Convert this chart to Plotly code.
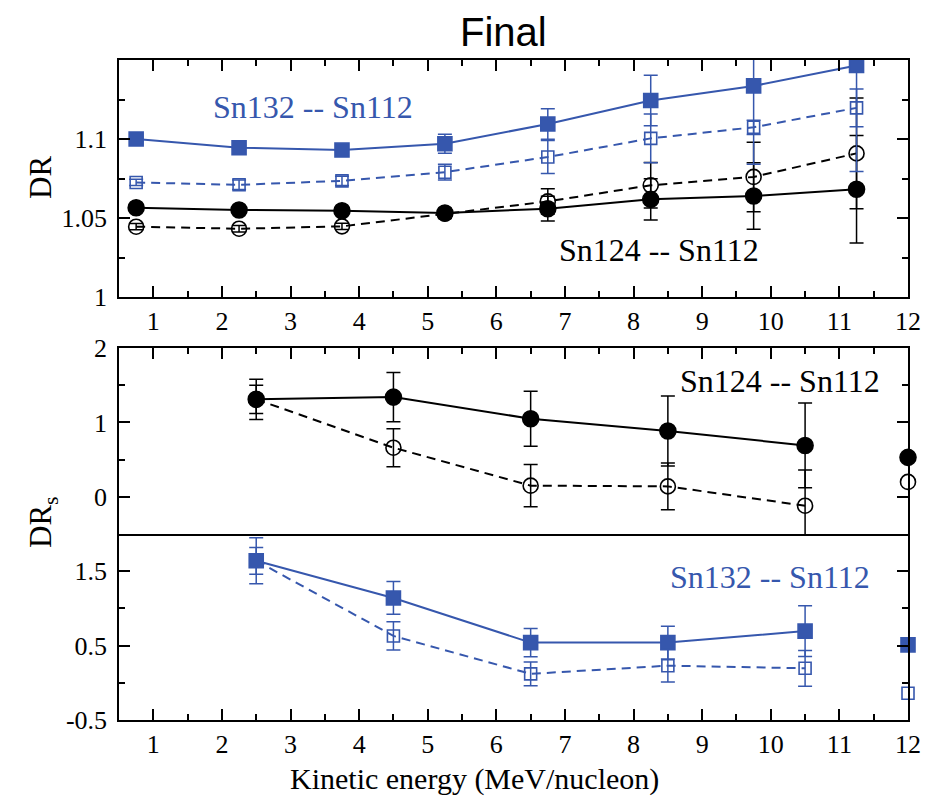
import plotly.graph_objects as go

# ---------------- data ----------------
# top panel (DR)
x_top = [0.75, 2.25, 3.75, 5.25, 6.75, 8.25, 9.75, 11.25]
dr132_full = [1.1000, 1.0945, 1.0930, 1.0970, 1.1095, 1.1244, 1.1336, 1.1465]
dr132_full_err = [0.0015, 0.0015, 0.0015, 0.0060, 0.0097, 0.0160, 0.0496, 0.0670]
dr132_open = [1.0725, 1.0710, 1.0735, 1.0790, 1.0886, 1.1004, 1.1074, 1.1197]
dr132_open_err = [0.0020, 0.0030, 0.0030, 0.0050, 0.0105, 0.0155, 0.0045, 0.0120]
dr124_full = [1.0565, 1.0551, 1.0546, 1.0532, 1.0559, 1.0618, 1.0639, 1.0682]
dr124_full_err = [0.0010, 0.0010, 0.0010, 0.0030, 0.0078, 0.0130, 0.0210, 0.0340]
dr124_open = [1.0445, 1.0432, 1.0447, 1.0527, 1.0605, 1.0707, 1.0760, 1.0909]
dr124_open_err = [0.0020, 0.0020, 0.0020, 0.0030, 0.0080, 0.0144, 0.0220, 0.0350]

# middle / bottom panels (DR_s)
x_s = [2.5, 4.5, 6.5, 8.5, 10.5]
drs124_full = [1.31, 1.34, 1.05, 0.885, 0.69]
drs124_full_err = [0.27, 0.33, 0.37, 0.47, 0.57]
drs124_open = [1.31, 0.66, 0.15, 0.14, -0.12]
drs124_open_err = [0.19, 0.255, 0.285, 0.315, 0.48]
drs132_full = [1.64, 1.14, 0.54, 0.54, 0.695]
drs132_full_err = [0.31, 0.22, 0.19, 0.22, 0.34]
drs132_open = [1.64, 0.63, 0.12, 0.23, 0.195]
drs132_open_err = [0.18, 0.19, 0.16, 0.22, 0.24]

x_avg = [12]
drs124_avg_full = [0.53]
drs124_avg_open = [0.20]
drs132_avg_full = [0.51]
drs132_avg_open = [-0.14]

top_tickvals = [1, 1.05, 1.1]
top_ticktext = ["1", "1.05", "1.1"]
bot_tickvals = [-0.5, 0.5, 1.5]
bot_ticktext = ["-0.5", "0.5", "1.5"]

BLUE = "#3657ad"
BLACK = "#000000"
SERIF = "Liberation Serif"

fig = go.Figure()


def add_series(x, y, err, color, symbol, size, dash, xa, ya, clip=True, lines=True):
    fig.add_trace(go.Scatter(
        x=x, y=y, xaxis=xa, yaxis=ya,
        mode="lines+markers" if lines else "markers",
        line=dict(color=color, width=2, dash=dash),
        marker=dict(symbol=symbol, size=size, color=color,
                    line=dict(color=color, width=1.6)),
        error_y=None if err is None else dict(type="data", array=err, visible=True,
                                              color=color, thickness=1.5, width=7),
        cliponaxis=clip, showlegend=False))


DASH = "9px,6px"
# top panel
add_series(x_top, dr124_open, dr124_open_err, BLACK, "circle-open", 15, DASH, "x", "y")
add_series(x_top, dr124_full, dr124_full_err, BLACK, "circle", 16, "solid", "x", "y")
add_series(x_top, dr132_open, dr132_open_err, BLUE, "square-open", 12, DASH, "x", "y")
add_series(x_top, dr132_full, dr132_full_err, BLUE, "square", 14, "solid", "x", "y")

# middle panel
add_series(x_s, drs124_open, drs124_open_err, BLACK, "circle-open", 15, DASH, "x2", "y2", clip=False)
add_series(x_s, drs124_full, drs124_full_err, BLACK, "circle", 16, "solid", "x2", "y2", clip=False)
add_series(x_avg, drs124_avg_open, None, BLACK, "circle-open", 15, DASH, "x2", "y2", clip=False, lines=False)
add_series(x_avg, drs124_avg_full, None, BLACK, "circle", 16, "solid", "x2", "y2", clip=False, lines=False)

# bottom panel
add_series(x_s, drs132_open, drs132_open_err, BLUE, "square-open", 12, DASH, "x3", "y3", clip=False)
add_series(x_s, drs132_full, drs132_full_err, BLUE, "square", 14, "solid", "x3", "y3", clip=False)
add_series(x_avg, drs132_avg_open, None, BLUE, "square-open", 12, DASH, "x3", "y3", clip=False, lines=False)
add_series(x_avg, drs132_avg_full, None, BLUE, "square", 14, "solid", "x3", "y3", clip=False, lines=False)


def tf():
    return dict(family=SERIF, size=26, color="black")


def minor(**kw):
    d = dict(ticks="inside", ticklen=6, tickwidth=1.5, tickcolor="black", showgrid=False)
    d.update(kw)
    return d


def axis(**kw):
    d = dict(showline=True, linecolor="black", linewidth=1.5, ticks="inside",
             ticklen=11, tickwidth=1.5, tickcolor="black", showgrid=False,
             zeroline=False, tickfont=tf())
    d.update(kw)
    return d


D_BOT = (720 - 534) / 660
D_MID_TOP = (720 - 348) / 660
D_TOP_BOT = (720 - 297) / 660

XR = [0.5, 12]

# page body has an 8px margin: figure is 925x794, placed at (8, 8)
fig.update_layout(
    width=925, height=794,
    margin=dict(l=111, r=25, t=52, b=82),
    font=dict(family=SERIF, size=26, color="black"),
    paper_bgcolor="white", plot_bgcolor="white",
    xaxis=axis(range=XR, tick0=0, dtick=1, minor=minor(tick0=0, dtick=0.5),
               domain=[0, 1], anchor="y", mirror="allticks", ticklabelstandoff=0),
    yaxis=axis(domain=[D_TOP_BOT, 1], anchor="x", range=[1, 1.15],
               tickmode="array", tickvals=top_tickvals, ticktext=top_ticktext,
               minor=minor(tickmode="linear", tick0=1.025, dtick=0.05),
               mirror="allticks", ticklabelstandoff=5),
    xaxis2=axis(range=XR, tick0=0, dtick=1, minor=minor(tick0=0, dtick=0.5),
                domain=[0, 1], anchor="y2", side="top", mirror=True,
                showticklabels=False),
    yaxis2=axis(domain=[D_BOT, D_MID_TOP], anchor="x2", range=[-0.5, 2],
                tick0=0, dtick=1, minor=minor(tick0=0, dtick=0.5),
                mirror="allticks", ticklabelstandoff=5),
    xaxis3=axis(range=XR, tick0=0, dtick=1, minor=minor(tick0=0, dtick=0.5),
                domain=[0, 1], anchor="y3", mirror=False, ticklabelstandoff=0),
    yaxis3=axis(domain=[0, D_BOT], anchor="x3", range=[-0.5, 2],
                tickmode="array", tickvals=bot_tickvals, ticktext=bot_ticktext,
                minor=minor(tickmode="linear", tick0=0, dtick=0.5),
                mirror="allticks", ticklabelstandoff=5),
)


def px2paper(px, py):
    return (px - 119) / 789, (720 - py) / 660


def ann(text, px, py, size, color="black", family=SERIF, angle=0):
    x, y = px2paper(px, py)
    fig.add_annotation(text=text, x=x, y=y, xref="paper", yref="paper",
                       xanchor="center", yanchor="middle", showarrow=False,
                       textangle=angle, font=dict(family=family, size=size, color=color))


ann("Final", 503, 32, 40, family="Liberation Sans")
ann("Sn132 -- Sn112", 313, 107, 32, color=BLUE)
ann("Sn124 -- Sn112", 659, 250, 32)
ann("Sn124 -- Sn112", 780, 381, 32)
ann("Sn132 -- Sn112", 770, 577, 32, color=BLUE)
ann("DR", 40, 178, 31, angle=-90)
ann("DR<sub>s</sub>", 43, 522, 31, angle=-90)
ann("Kinetic energy (MeV/nucleon)", 474, 779, 30)

fig.write_html("out.html")
